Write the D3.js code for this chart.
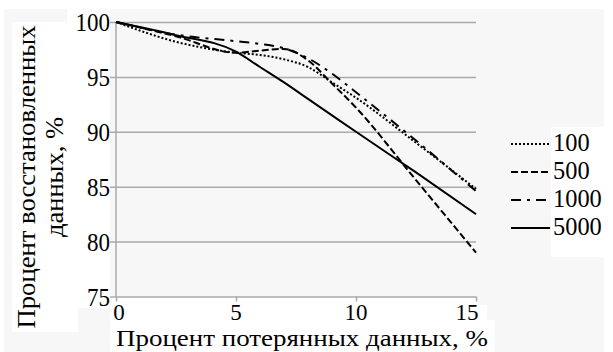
<!DOCTYPE html>
<html>
<head>
<meta charset="utf-8">
<script src="https://cdn.jsdelivr.net/npm/d3@7"></script>
<style>
body { margin: 0; background: #fff; }
</style>
</head>
<body>
<div id="chart"></div>
<script>
// процент потерянных данных (ось X)
var lost = [0, 2.5, 5, 6, 7, 8, 9, 10, 12.5, 15];
var rec100 = [100, 98.2, 97.2, 97.0, 96.6, 95.9, 94.5, 93.1, 89.0, 84.8];
var rec500 = [100, 98.7, 97.2, 97.4, 97.55, 96.5, 94.4, 92.2, 85.6, 79.0];
var rec1000 = [100, 98.85, 98.25, 98.0, 97.6, 96.7, 95.3, 93.6, 89.2, 84.6];
var rec5000 = [100, 98.8, 97.3, 95.9, 94.5, 93.0, 91.5, 90.0, 86.3, 82.5];
var seriesNames = ["100", "500", "1000", "5000"];
var xTicks = [0, 5, 10, 15];
var yTicks = [75, 80, 85, 90, 95, 100];

var W = 613, H = 352;

// выбираем первый установленный шрифт с засечками
function pickFont(list) {
    var ctx = document.createElement("canvas").getContext("2d");
    var probe = "Процент восстановленных 1000";
    ctx.font = "40px monospace";
    var base = ctx.measureText(probe).width;
    for (var i = 0; i < list.length; i++) {
        ctx.font = "40px '" + list[i] + "', monospace";
        if (Math.abs(ctx.measureText(probe).width - base) > 0.5) return "'" + list[i] + "'";
    }
    return "serif";
}
var FONT = pickFont(["Liberation Serif", "Times New Roman", "Tinos", "DejaVu Serif", "Noto Serif"]) + ", serif";

// ширина цифр как в образце (узкий шрифт)
function numWidth(s) { return s.length * 11.5; }

var svg = d3.select("#chart")
    .append("svg")
    .attr("width", W)
    .attr("height", H)
    .attr("font-family", FONT);

// фон и белые подложки под подписями
var bg = svg.append("g");
bg.append("rect").attr("x", 4).attr("y", 9).attr("width", 600).attr("height", 343).attr("fill", "#f7f7f7");
bg.append("rect").attr("x", 67).attr("y", 0).attr("width", 43).attr("height", 308).attr("fill", "#fff");
bg.append("rect").attr("x", 12).attr("y", 22).attr("width", 66).attr("height", 310).attr("fill", "#fff");
bg.append("rect").attr("x", 110).attr("y", 297).attr("width", 367).attr("height", 55).attr("fill", "#fff");
bg.append("rect").attr("x", 440).attr("y", 305).attr("width", 47).attr("height", 47).attr("fill", "#fff");
bg.append("rect").attr("x", 440).attr("y", 320).attr("width", 55).attr("height", 32).attr("fill", "#fff");
bg.append("rect").attr("x", 551).attr("y", 127).attr("width", 62).attr("height", 130).attr("fill", "#fff");

var x = d3.scaleLinear().domain([0, 15]).range([116, 476]);
var y = d3.scaleLinear().domain([75, 100]).range([296.5, 22]);

// сетка
var grid = svg.append("g")
    .attr("transform", "translate(116,0)")
    .call(d3.axisLeft(y).tickValues(yTicks).tickSize(6).tickFormat(""));
grid.select(".domain").remove();
grid.selectAll(".tick line")
    .attr("x1", -6)
    .attr("x2", 360)
    .attr("stroke", "#aaa")
    .attr("stroke-width", 1.5);

svg.append("line")
    .attr("x1", 116).attr("x2", 116)
    .attr("y1", y(100)).attr("y2", y(75))
    .attr("stroke", "#aaa")
    .attr("stroke-width", 1.5);

var xAxis = svg.append("g")
    .attr("transform", "translate(0," + y(75) + ")")
    .call(d3.axisBottom(x).tickValues(xTicks).tickSize(5).tickFormat(""));
xAxis.select(".domain").remove();
xAxis.selectAll(".tick line").attr("stroke", "#aaa").attr("stroke-width", 1.5);

// подписи делений
svg.append("g").selectAll("text")
    .data(yTicks)
    .enter()
    .append("text")
    .attr("x", 110)
    .attr("y", function (d) { return y(d) + 9; })
    .attr("text-anchor", "end")
    .attr("font-size", 25)
    .attr("textLength", function (d) { return numWidth(String(d)); })
    .attr("lengthAdjust", "spacingAndGlyphs")
    .text(function (d) { return d; });

svg.append("g").selectAll("text")
    .data(xTicks)
    .enter()
    .append("text")
    .attr("x", function (d, i) { return x(d) + (i == 0 ? 3 : (i == 3 ? -9 : 0)); })
    .attr("y", 320)
    .attr("text-anchor", "middle")
    .attr("font-size", 23)
    .attr("textLength", function (d) { return numWidth(String(d)); })
    .attr("lengthAdjust", "spacingAndGlyphs")
    .text(function (d) { return d; });

// заголовки осей
svg.append("text")
    .attr("x", 116)
    .attr("y", 346)
    .attr("textLength", 372)
    .attr("lengthAdjust", "spacingAndGlyphs")
    .attr("font-size", 23)
    .text("Процент потерянных данных, %");

var yTitle = svg.append("text")
    .attr("transform", "translate(35,177) rotate(-90)")
    .attr("text-anchor", "middle")
    .attr("font-size", 25);
yTitle.append("tspan").attr("x", 0).attr("y", 0)
    .attr("textLength", 303).attr("lengthAdjust", "spacingAndGlyphs")
    .text("Процент восстановленных");
yTitle.append("tspan").attr("x", 0).attr("y", 28)
    .attr("textLength", 120).attr("lengthAdjust", "spacingAndGlyphs")
    .text("данных, %");

// линии
var dashes = ["2,2", "7,3", "10,6,3,6", null];
var widths = [2, 2, 2, 2];
var allSeries = [rec100, rec500, rec1000, rec5000];

var line = d3.line()
    .x(function (d, i) { return x(lost[i]); })
    .y(function (d) { return y(d); })
    .curve(d3.curveMonotoneX);

svg.append("g").selectAll("path")
    .data(allSeries)
    .enter()
    .append("path")
    .attr("d", line)
    .attr("fill", "none")
    .attr("stroke", "#000")
    .attr("stroke-width", function (d, i) { return widths[i]; })
    .attr("stroke-dasharray", function (d, i) { return dashes[i]; });

// легенда
var leg = svg.append("g").selectAll("g")
    .data(seriesNames)
    .enter()
    .append("g")
    .attr("transform", function (d, i) { return "translate(0," + (142 + i * 28) + ")"; });

leg.append("line")
    .attr("x1", 511).attr("x2", 550)
    .attr("y1", 2).attr("y2", 2)
    .attr("stroke", "#000")
    .attr("stroke-width", function (d, i) { return widths[i]; })
    .attr("stroke-dasharray", function (d, i) { return dashes[i]; });

leg.append("text")
    .attr("x", 553)
    .attr("y", 9)
    .attr("font-size", 25)
    .attr("textLength", function (d) { return d.length * 12.2; })
    .attr("lengthAdjust", "spacingAndGlyphs")
    .text(function (d) { return d; });
</script>
</body>
</html>
